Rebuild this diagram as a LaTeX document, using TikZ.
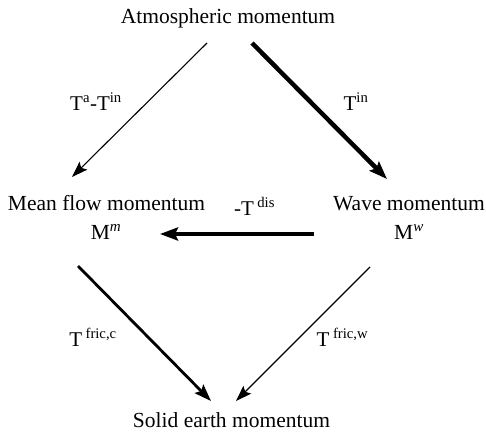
\documentclass[tikz,border=0pt]{standalone}
\usepackage{fontspec}
\setmainfont{Liberation Serif}
\usetikzlibrary{arrows.meta}
\begin{document}
\begin{tikzpicture}[x=1pt,y=-1pt,
  txt/.style={anchor=base,inner sep=0pt,font=\fontsize{21.5}{24}\selectfont},
  lbl/.style={anchor=base,inner sep=0pt,font=\fontsize{21}{24}\selectfont},
  thinarr/.style={line width=1.1pt,-{Stealth[length=16pt,width=11pt,inset=3pt]}},
  midarr/.style={line width=2.8pt,-{Stealth[length=17pt,width=12pt,inset=3pt]}},
  thickarr/.style={line width=4.5pt,-{Stealth[length=18pt,width=13pt,inset=3pt]}}]
\useasboundingbox (0,0) rectangle (486,434);
\node[txt] (atm) at (228,23) {Atmospheric momentum};
\node[txt] (mean) at (106.5,210) {Mean flow momentum};
\node[txt] (mm) at (106,239) {M\textsuperscript{\itshape m}};
\node[txt] (wave) at (409,210) {Wave momentum};
\node[txt] (mw) at (409,239) {M\textsuperscript{\itshape w}};
\node[txt] (solid) at (231.5,427) {Solid earth momentum};
\node[lbl] (l1) at (96,110) {T\textsuperscript{a}-T\textsuperscript{in}};
\node[lbl] (l2) at (356,110) {T\textsuperscript{in}};
\node[lbl] (l3) at (254.5,215) {-T\,\textsuperscript{dis}};
\node[lbl] (l4) at (93,346) {T\,\textsuperscript{fric,c}};
\node[lbl] (l5) at (342.5,346) {T\,\textsuperscript{fric,w}};
\coordinate (a1) at (207,43);
\coordinate (a2) at (252,43);
\coordinate (m1) at (72,177);
\coordinate (w1) at (387,179);
\coordinate (w2) at (314,234);
\coordinate (m2) at (160,234);
\coordinate (m3) at (78,266);
\coordinate (w3) at (370,267);
\coordinate (s1) at (211,401);
\coordinate (s2) at (236,401);
\draw[thinarr] (a1) -- (m1);
\draw[thickarr] (a2) -- (w1);
\draw[thickarr] (w2) -- (m2);
\draw[midarr] (m3) -- (s1);
\draw[thinarr] (w3) -- (s2);
\end{tikzpicture}
\end{document}
